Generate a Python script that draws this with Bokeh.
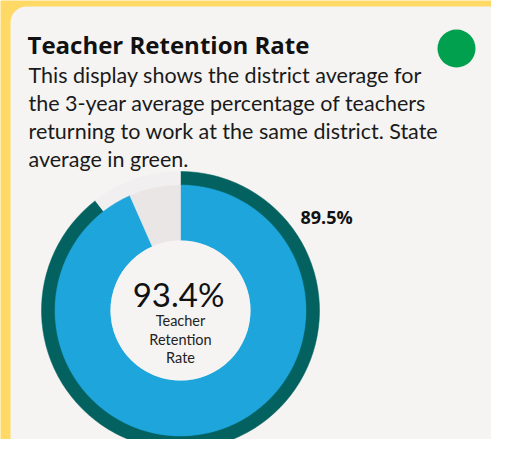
from bokeh.plotting import figure
from bokeh.models import ColumnDataSource, Range1d, BoxAnnotation
from bokeh.core.properties import value
from bokeh.embed import file_html
from bokeh.resources import INLINE
import math

# ---- data ----
title = "Teacher Retention Rate"
subtitle_lines = [
    "This display shows the district average for",
    "the 3-year average percentage of teachers",
    "returning to work at the same district. State",
    "average in green.",
]
center_label_lines = ["Teacher", "Retention", "Rate"]
district_avg = 93.4   # inner blue ring
state_avg = 89.5      # outer green ring

# ---- colours ----
YELLOW = "#FFD966"
CARD = "#F5F4F2"
TEAL = "#03625F"
BLUE = "#1DA5DC"
REM_INNER = "#EAE6E6"
REM_OUTER = "#F1EFF0"
GREEN = "#00A04E"

W, H = 491, 439

def Y(py):
    return H - py

p = figure(width=W, height=H, output_backend="svg", toolbar_location=None,
           x_range=Range1d(0, W), y_range=Range1d(0, H),
           min_border=0)
p.axis.visible = False
p.grid.visible = False
p.outline_line_color = None
p.background_fill_color = YELLOW
p.border_fill_color = YELLOW

card = BoxAnnotation(left=10, right=520, top=Y(6), bottom=Y(470),
                     fill_color=CARD, fill_alpha=1, line_color=None,
                     border_radius=16, level="underlay")
p.add_layout(card)

# ---- donut ----
cx, cy = 180, Y(310)
top = math.pi / 2

def ring(vals, colors, r_in, r_out):
    starts, ends = [], []
    acc = 0.0
    for v in vals:
        starts.append(top - 2 * math.pi * acc / 100.0)
        acc += v
        ends.append(top - 2 * math.pi * acc / 100.0)
    src = ColumnDataSource(dict(x=[cx] * len(vals), y=[cy] * len(vals),
                                start=starts, end=ends, color=colors))
    p.annular_wedge(x="x", y="y", inner_radius=r_in, outer_radius=r_out,
                    start_angle="start", end_angle="end", direction="clock",
                    fill_color="color", line_color="color", line_width=0.5,
                    source=src)

ring([state_avg, 100 - state_avg], [TEAL, REM_OUTER], 125, 139)
ring([district_avg, 100 - district_avg], [BLUE, REM_INNER], 70, 125.5)
p.circle(x=[cx], y=[cy], radius=70, fill_color=CARD, line_color=None)

# ---- texts ----
LATO = value("Lato")
OPEN = value("Open Sans")
p.text(x=[27], y=[Y(44)], text=[title], text_font=OPEN,
       text_font_style="bold", text_font_size="24px", text_color="#111111",
       text_baseline="alphabetic")
p.text(x=[28] * 4, y=[Y(74 + 28 * i) for i in range(4)], text=subtitle_lines,
       text_font=LATO, text_font_size="21.5px", text_color="#1a1a1a",
       text_baseline="alphabetic")
p.text(x=[178], y=[Y(293)], text=[f"{district_avg:.1f}%"], text_font=LATO,
       text_font_size="33px", text_color="#111111", text_align="center",
       text_baseline="alphabetic")
p.text(x=[cx] * 3, y=[Y(320 + 18.5 * i) for i in range(3)],
       text=center_label_lines, text_font=LATO, text_font_size="14.5px",
       text_color="#222222", text_align="center", text_baseline="alphabetic")
p.text(x=[300], y=[Y(216)], text=[f"{state_avg:.1f}%"], text_font=OPEN,
       text_font_style="bold", text_font_size="18px", text_color="#111111",
       text_baseline="alphabetic")

p.circle(x=[456], y=[Y(48)], radius=19, fill_color=GREEN, line_color=None)

open("out.html", "w").write(file_html(p, INLINE))
